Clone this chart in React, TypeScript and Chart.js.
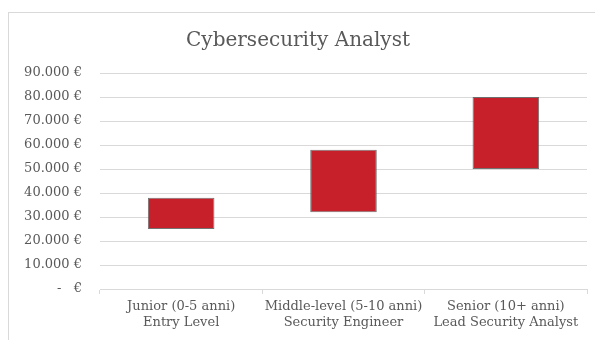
import React, { useEffect, useRef } from "react";
import { Chart, registerables } from "chart.js";

Chart.register(...registerables);

const categories: string[][] = [
  ["Junior (0-5 anni)", "Entry Level"],
  ["Middle-level (5-10 anni)", "Security Engineer"],
  ["Senior (10+ anni)", "Lead Security Analyst"],
];
const salaryMin: number[] = [25000, 32000, 50000];
const salaryMax: number[] = [38000, 58000, 80000];
const yTickLabels: string[] = [
  "-   €",
  "10.000 €",
  "20.000 €",
  "30.000 €",
  "40.000 €",
  "50.000 €",
  "60.000 €",
  "70.000 €",
  "80.000 €",
  "90.000 €",
];
const chartTitle = "Cybersecurity Analyst";

const FONT = "'DejaVu Serif', 'Liberation Serif', serif";
const TEXT = "#595959";
const GRID = "#d9d9d9";

export default function App() {
  const ref = useRef<HTMLCanvasElement | null>(null);
  useEffect(() => {
    if (!ref.current) return;
    const chart = new Chart(ref.current, {
      type: "bar",
      data: {
        labels: categories,
        datasets: [
          {
            data: salaryMin.map((m, i) => [m, salaryMax[i]]),
            backgroundColor: "#c8202a",
            borderColor: "rgba(90,90,90,0.85)",
            borderWidth: 1,
            borderSkipped: false,
            barPercentage: 0.41,
            categoryPercentage: 1,
          },
        ],
      },
      options: {
        animation: false,
        responsive: false,
        maintainAspectRatio: false,
        layout: { padding: { left: 0, right: 8, top: 0, bottom: 0 } },
        plugins: {
          legend: { display: false },
          tooltip: { enabled: false },
          title: {
            display: true,
            text: chartTitle,
            color: TEXT,
            font: { family: FONT, size: 20, weight: "normal" },
            padding: { top: 16, bottom: 20 },
          },
        },
        scales: {
          x: {
            offset: true,
            grid: {
              offset: true,
              drawOnChartArea: false,
              drawTicks: true,
              tickLength: 5,
              color: GRID,
            },
            border: { display: true, color: GRID },
            ticks: {
              color: TEXT,
              font: { family: FONT, size: 13 },
              padding: 5,
              maxRotation: 0,
              autoSkip: false,
            },
            afterFit: (s: any) => {
              s.height = 51;
            },
          },
          y: {
            min: 0,
            max: 90000,
            grid: { color: GRID, drawTicks: false },
            border: { display: false },
            ticks: {
              stepSize: 10000,
              color: TEXT,
              font: { family: FONT, size: 13 },
              padding: 18,
              callback: (_v: any, i: number) => yTickLabels[i],
            },
            afterFit: (s: any) => {
              s.width = 91;
            },
          },
        },
      },
    });
    return () => chart.destroy();
  }, []);
  return (
    <div
      style={{
        position: "absolute",
        left: 8,
        top: 12,
        width: 620,
        height: 360,
        borderTop: "1px solid #d9d9d9",
        borderLeft: "1px solid #d9d9d9",
        background: "#fff",
      }}
    >
      <canvas ref={ref} width={586} height={327} style={{ display: "block" }} />
    </div>
  );
}
